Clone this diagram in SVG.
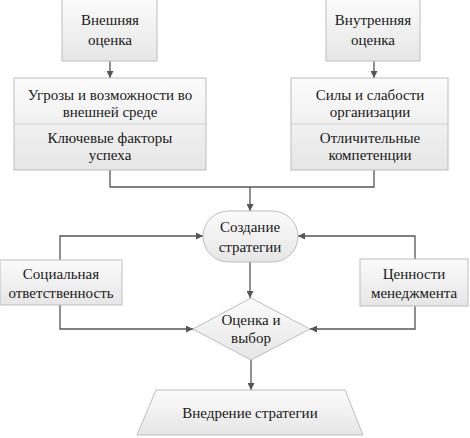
<svg xmlns="http://www.w3.org/2000/svg" width="470" height="438" viewBox="0 0 470 438" font-family="Liberation Serif, DejaVu Serif, Noto Serif, serif">
<style>
.n{fill:url(#g);stroke:#bdbdbd;stroke-width:1}
.t{font-size:15px;fill:#1a1a1a;text-anchor:middle}
.c{fill:none;stroke:#555;stroke-width:1.3}
.d{stroke:#cfcfcf;stroke-width:1}
</style>
<defs>
<linearGradient id="g" x1="0" y1="0" x2="0" y2="1">
<stop offset="0" stop-color="#fbfbfb"/>
<stop offset="1" stop-color="#e6e6e6"/>
</linearGradient>
<marker id="a" viewBox="0 0 10 10" refX="10" refY="5" markerWidth="7" markerHeight="7" markerUnits="userSpaceOnUse" orient="auto">
<path d="M0,0L10,5L0,10z" fill="#555"/>
</marker>
</defs>
<g id="connectors">
<path class="c" d="M110,61V78" marker-end="url(#a)"/>
<path class="c" d="M374,61V78" marker-end="url(#a)"/>
<path class="c" d="M110,170V187H374V170"/>
<path class="c" d="M250,187V211" marker-end="url(#a)"/>
<path class="c" d="M60,260V236H203" marker-end="url(#a)"/>
<path class="c" d="M415,259V236H298" marker-end="url(#a)"/>
<path class="c" d="M250,262V298" marker-end="url(#a)"/>
<path class="c" d="M60,305V329H193" marker-end="url(#a)"/>
<path class="c" d="M415,306V329H310" marker-end="url(#a)"/>
<path class="c" d="M251,360V390" marker-end="url(#a)"/>
</g>
<g id="ext">
<rect class="n" x="62" y="-1" width="95" height="62"/>
<text class="t" x="110" y="25" font-family="Liberation Serif">Внешняя</text>
<text class="t" x="110" y="45" font-family="Liberation Serif">оценка</text>
</g>
<g id="int">
<rect class="n" x="326" y="-1" width="94" height="62"/>
<text class="t" x="373" y="25">Внутренняя</text>
<text class="t" x="373" y="45">оценка</text>
</g>
<g id="threats">
<rect class="n" x="14" y="78" width="192" height="92"/>
<line class="d" x1="14" y1="124" x2="206" y2="124"/>
<text class="t" x="110" y="100">Угрозы и возможности во</text>
<text class="t" x="110" y="117">внешней среде</text>
<text class="t" x="110" y="143">Ключевые факторы</text>
<text class="t" x="110" y="160">успеха</text>
</g>
<g id="strengths">
<rect class="n" x="291" y="78" width="157" height="92"/>
<line class="d" x1="291" y1="124" x2="448" y2="124"/>
<text class="t" x="370" y="100">Силы и слабости</text>
<text class="t" x="370" y="117">организации</text>
<text class="t" x="370" y="143">Отличительные</text>
<text class="t" x="370" y="160">компетенции</text>
</g>
<g id="create">
<rect class="n" x="203" y="211" width="95" height="51" rx="25.5" ry="25.5"/>
<text class="t" x="250" y="232">Создание</text>
<text class="t" x="250" y="252">стратегии</text>
</g>
<g id="social">
<rect class="n" x="0" y="260" width="122" height="45"/>
<text class="t" x="61" y="279">Социальная</text>
<text class="t" x="61" y="298">ответственность</text>
</g>
<g id="values">
<rect class="n" x="360" y="259" width="108" height="47"/>
<text class="t" x="414" y="279">Ценности</text>
<text class="t" x="414" y="298">менеджмента</text>
</g>
<g id="eval">
<path class="n" d="M251,298L310,329L251,360L193,329Z"/>
<text class="t" x="251" y="325">Оценка и</text>
<text class="t" x="251" y="343">выбор</text>
</g>
<g id="impl">
<path class="n" d="M156,390H345L363,435H137Z"/>
<text class="t" x="250" y="418">Внедрение стратегии</text>
</g>
</svg>
